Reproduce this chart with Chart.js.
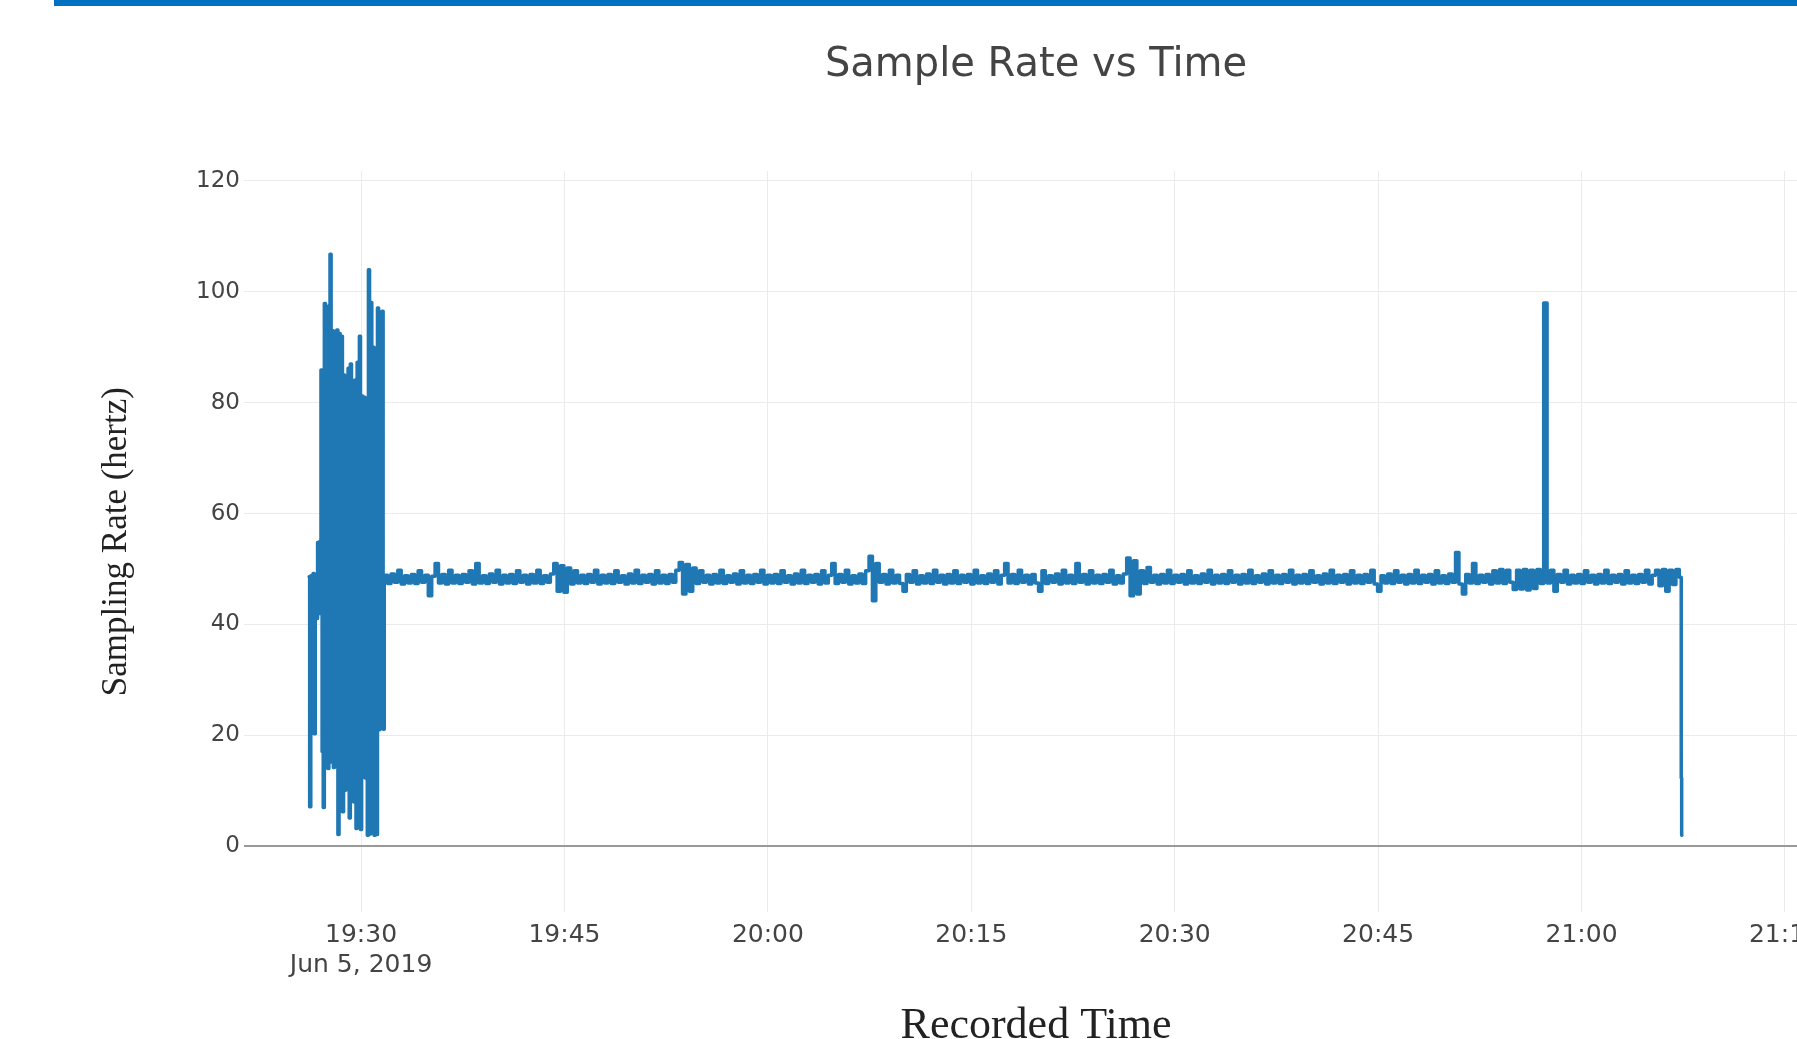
<!DOCTYPE html>
<html>
<head>
<meta charset="utf-8">
<title>Sample Rate vs Time</title>
<script src="https://cdn.jsdelivr.net/npm/chart.js@4.4.1/dist/chart.umd.min.js"></script>
<style>
    html, body { margin: 0; padding: 0; background: #fff; overflow: hidden; }
    #topBar { position: absolute; left: 54px; top: 0; right: 0; height: 6px; background: #0070c0; z-index: 2; }
    #rateChart { position: absolute; left: 0; top: 0; }
</style>
</head>
<body>
<div id="topBar"></div>
<canvas id="rateChart" width="2072" height="1060"></canvas>
<script>
// --- Data: sampling rate log, Jun 5, 2019 ---
const recordingDate = 'Jun 5, 2019';

// start-up burst, logged every 5 s
const burstStart = '19:26:10';
const burstStepSec = 5;
const burstRates = [
    48.6, 7.1, 48.8, 34.5, 49.2, 20.3, 48.1, 41.1, 54.8, 42.0,
    55.0, 85.9, 17.1, 7.0, 97.9, 16.0, 91.0, 14.0, 97.5, 106.8,
    15.2, 93.0, 14.2, 82.0, 16.3, 93.1, 2.1, 92.5, 13.0, 92.0,
    6.2, 85.0, 10.1, 78.0, 12.0, 86.2, 5.1, 87.0, 13.3, 78.4,
    8.0, 84.1, 3.2, 87.3, 12.1, 92.0, 3.0, 81.2, 14.1, 81.0,
    12.3, 73.2, 2.0, 104.0, 2.2, 98.1, 3.1, 90.0, 2.0, 80.4,
    2.1, 97.1, 21.0, 82.3, 25.2, 96.5, 21.1, 48.5
];

// steady logging, every 15 s (one row = 5 minutes)
const steadyStart = '19:31:50';
const steadyStepSec = 15;
const steadyRates = [
    48.9, 47.4, 49.1, 47.6, 49.8, 47.3, 48.8, 47.5, 49.0, 47.4, 49.7, 47.6, 48.9, 45.2, 48.7, 51.0, 47.5, 49.0, 47.3, 49.8,
    47.5, 48.9, 47.4, 49.0, 47.6, 49.7, 47.3, 51.0, 47.5, 48.8, 47.4, 49.1, 47.6, 49.8, 47.3, 48.9, 47.5, 49.0, 47.4, 49.7,
    47.6, 48.9, 47.3, 49.0, 47.5, 49.8, 47.4, 48.8, 47.6, 49.1, 51.0, 46.0, 50.6, 45.8, 50.2, 47.3, 49.7, 47.5, 48.9, 47.4,
    49.0, 47.6, 49.8, 47.3, 48.9, 47.5, 49.0, 47.4, 49.7, 47.6, 48.8, 47.3, 49.1, 47.5, 49.8, 47.4, 48.9, 47.6, 49.0, 47.3,
    49.7, 47.5, 48.9, 47.4, 49.0, 47.6, 49.8, 51.2, 45.5, 50.8, 46.0, 50.2, 47.4, 49.7, 47.6, 48.9, 47.3, 49.0, 47.5, 49.8,
    47.4, 48.8, 47.6, 49.1, 47.3, 49.7, 47.5, 48.9, 47.4, 49.0, 47.6, 49.8, 47.3, 48.9, 47.5, 49.0, 47.4, 49.7, 47.6, 48.8,
    47.3, 49.1, 47.5, 49.8, 47.4, 48.9, 47.6, 49.0, 47.3, 49.7, 47.5, 48.9, 51.0, 47.4, 49.0, 47.6, 49.8, 47.3, 48.8, 47.5,
    49.1, 47.4, 49.7, 52.3, 44.3, 51.0, 47.6, 49.0, 47.3, 49.8, 47.5, 48.9, 47.4, 46.0, 49.0, 47.6, 49.7, 47.3, 48.8, 47.5,
    49.1, 47.4, 49.8, 47.6, 48.9, 47.3, 49.0, 47.5, 49.7, 47.4, 48.9, 47.6, 49.0, 47.3, 49.8, 47.5, 48.8, 47.4, 49.1, 47.6,
    49.7, 47.3, 48.9, 51.0, 47.5, 49.0, 47.4, 49.8, 47.6, 48.9, 47.3, 49.0, 47.5, 46.0, 49.7, 47.4, 48.8, 47.6, 49.1, 47.3,
    49.8, 47.5, 48.9, 47.4, 51.0, 47.6, 49.0, 47.3, 49.7, 47.5, 48.9, 47.4, 49.0, 47.6, 49.8, 47.3, 48.8, 47.5, 49.1, 52.0,
    45.2, 51.5, 45.5, 49.7, 47.4, 50.3, 47.6, 48.9, 47.3, 49.0, 47.5, 49.8, 47.4, 48.9, 47.6, 49.0, 47.3, 49.7, 47.5, 48.8,
    47.4, 49.1, 47.6, 49.8, 47.3, 48.9, 47.5, 49.0, 47.4, 49.7, 47.6, 48.9, 47.3, 49.0, 47.5, 49.8, 47.4, 48.8, 47.6, 49.1,
    47.3, 49.7, 47.5, 48.9, 47.4, 49.0, 47.6, 49.8, 47.3, 48.9, 47.5, 49.0, 47.4, 49.7, 47.6, 48.8, 47.3, 49.1, 47.5, 49.8,
    47.4, 48.9, 47.6, 49.0, 47.3, 49.7, 47.5, 48.9, 47.4, 49.0, 47.6, 49.8, 47.3, 46.0, 48.8, 47.5, 49.1, 47.4, 49.7, 47.6,
    48.9, 47.3, 49.0, 47.5, 49.8, 47.4, 48.9, 47.6, 49.0, 47.3, 49.7, 47.5, 48.8, 47.4, 49.1, 47.6, 53.0, 47.3, 45.5, 49.0,
    47.5, 51.0, 47.4, 48.9, 47.6, 49.0, 47.3, 49.7, 47.5, 49.9, 47.4, 49.8, 47.6, 46.3, 49.8, 46.4, 49.9, 46.2, 49.8, 46.5,
    49.9, 47.4, 98.0, 47.5, 49.8, 46.0, 49.0, 47.6, 49.8, 47.3, 48.9, 47.5, 49.0, 47.4, 49.7, 47.6, 48.9, 47.3, 49.0, 47.5,
    49.8, 47.4, 48.9, 47.6, 49.0, 47.3, 49.7, 47.5, 48.9, 47.4, 49.0, 47.6, 49.8, 47.3, 48.9, 49.8, 47.0, 49.9, 46.0, 49.8,
    47.2, 49.9, 48.5
];

// logger shutting down
const shutdownTimes = ['21:07:22', '21:07:24'];
const shutdownRates = [12.3, 2.0];

// axes
const xTickTimes = ['19:30', '19:45', '20:00', '20:15', '20:30', '20:45', '21:00', '21:15', '21:30'];
const xRange = ['19:21:22', '21:36:10'];
const yTickValues = [0, 20, 40, 60, 80, 100, 120];
const yRange = [-11.9, 121.8];

// --- Helpers ---
function toMinutes(hms) {
    const parts = hms.split(':').map(Number);
    return parts[0] * 60 + parts[1] + (parts[2] || 0) / 60;
}

function formatClock(minutes) {
    const total = Math.round(minutes);
    const h = Math.floor(total / 60);
    const m = total % 60;
    return String(h).padStart(2, '0') + ':' + String(m).padStart(2, '0');
}

function buildSeries() {
    const points = [];
    const burst0 = toMinutes(burstStart);
    burstRates.forEach((r, i) => points.push({ x: burst0 + i * burstStepSec / 60, y: r }));
    const steady0 = toMinutes(steadyStart);
    steadyRates.forEach((r, i) => points.push({ x: steady0 + i * steadyStepSec / 60, y: r }));
    shutdownTimes.forEach((t, i) => points.push({ x: toMinutes(t), y: shutdownRates[i] }));
    return points;
}

// --- Chart ---
const serifFont = "'Liberation Serif', 'Times New Roman', serif";
Chart.defaults.font.family = "'DejaVu Sans', Verdana, sans-serif";
Chart.defaults.color = '#444';

const ctx = document.getElementById('rateChart').getContext('2d');
const rateChart = new Chart(ctx, {
    type: 'line',
    data: {
        datasets: [{
            label: 'Sampling Rate',
            data: buildSeries(),
            borderColor: '#1f77b4',
            borderWidth: 3.5,
            borderJoinStyle: 'round',
            borderCapStyle: 'round',
            stepped: 'middle',
            pointRadius: 0,
            fill: false
        }]
    },
    options: {
        responsive: false,
        animation: false,
        parsing: false,
        layout: { padding: 0 },
        plugins: {
            legend: { display: false },
            tooltip: { enabled: false },
            title: {
                display: true,
                text: 'Sample Rate vs Time',
                color: '#444',
                font: { size: 40, weight: 'normal' },
                padding: { top: 42, bottom: 81 }
            },
            // x axis title, centred on the whole figure like the original
            subtitle: {
                display: true,
                position: 'bottom',
                text: 'Recorded Time',
                color: '#222',
                font: { family: serifFont, size: 44, weight: 'normal' },
                padding: { top: 0, bottom: 7.5 }
            }
        },
        scales: {
            x: {
                type: 'linear',
                min: toMinutes(xRange[0]),
                max: toMinutes(xRange[1]),
                afterBuildTicks: scale => {
                    scale.ticks = xTickTimes.map(t => ({ value: toMinutes(t) }));
                },
                afterFit: scale => { scale.height = 87.5; },
                border: { display: false },
                grid: { color: '#ebebeb', lineWidth: 1, drawTicks: false },
                ticks: {
                    autoSkip: false,
                    maxRotation: 0,
                    padding: 8,
                    color: '#444',
                    font: { size: 25, lineHeight: 1.2 },
                    callback: (value, index) => index === 0
                        ? [formatClock(value), recordingDate]
                        : formatClock(value)
                }
            },
            y: {
                min: yRange[0],
                max: yRange[1],
                afterBuildTicks: scale => {
                    scale.ticks = yTickValues.map(v => ({ value: v }));
                },
                afterFit: scale => { scale.width = 244; },
                border: { display: false },
                grid: {
                    drawTicks: false,
                    color: c => c.tick && c.tick.value === 0 ? '#999' : '#ebebeb',
                    lineWidth: c => c.tick && c.tick.value === 0 ? 2 : 1
                },
                ticks: {
                    padding: 4,
                    color: '#444',
                    font: { size: 23 }
                },
                title: {
                    display: true,
                    text: 'Sampling Rate (hertz)',
                    color: '#222',
                    font: { family: serifFont, size: 35 },
                    padding: { top: 96, bottom: 0 }
                }
            }
        }
    }
});
</script>
</body>
</html>
